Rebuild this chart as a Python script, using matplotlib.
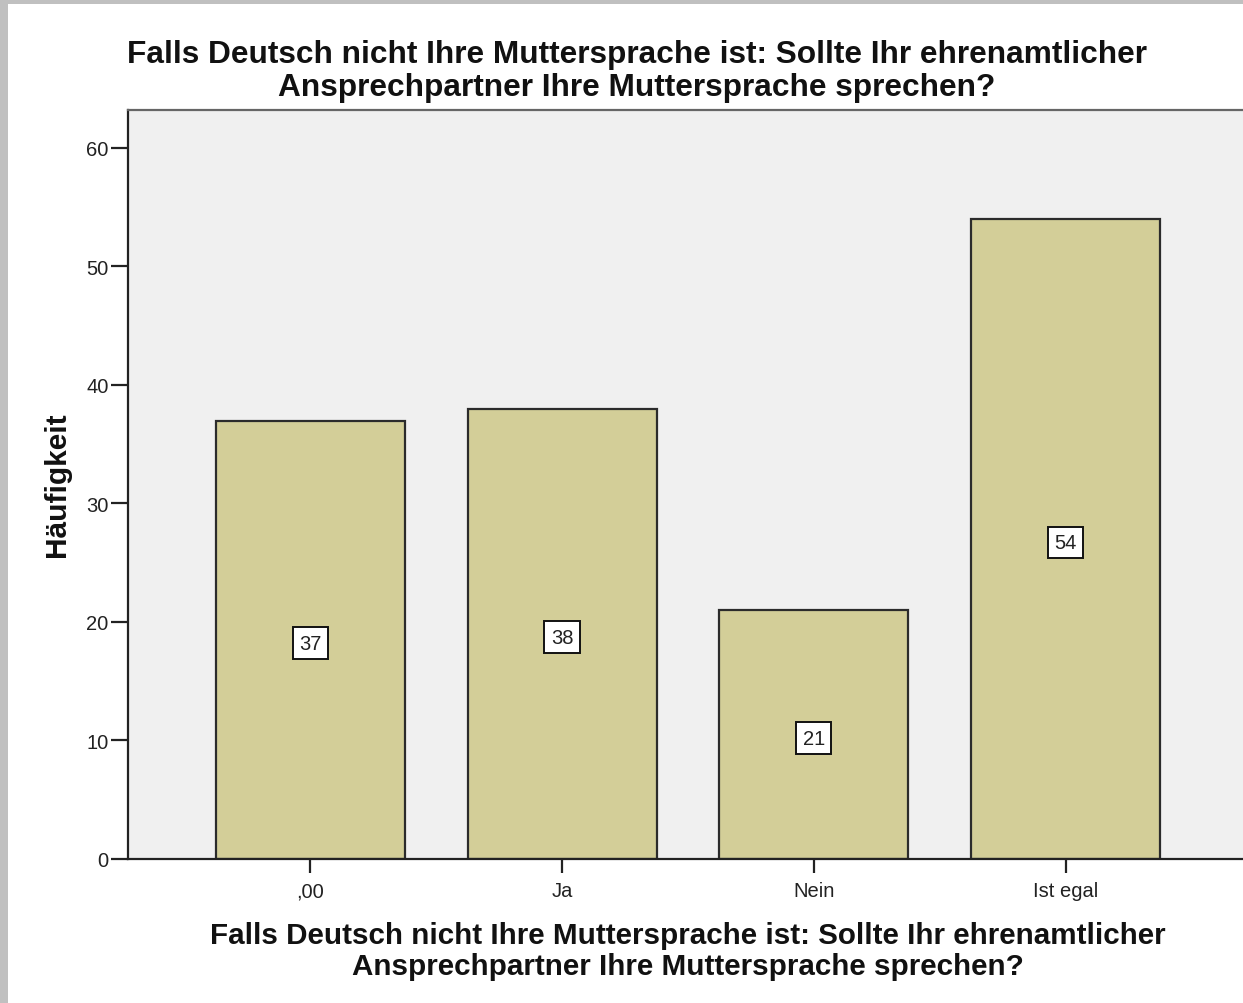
import matplotlib
matplotlib.use("Agg")
import matplotlib.pyplot as plt
from matplotlib.patches import Rectangle

categories = [",00", "Ja", "Nein", "Ist egal"]
counts = [37, 38, 21, 54]
yticks = [0, 10, 20, 30, 40, 50, 60]
title_lines = ["Falls Deutsch nicht Ihre Muttersprache ist: Sollte Ihr ehrenamtlicher",
               "Ansprechpartner Ihre Muttersprache sprechen?"]
xlabel_lines = title_lines
ylabel = "Häufigkeit"

plt.rcParams['font.family'] = ['Liberation Sans', 'DejaVu Sans']

W, H = 1243, 1004
fig = plt.figure(figsize=(W / 100, H / 100), dpi=100)
fig.patch.set_facecolor("white")

# gray frame
fig.patches.append(Rectangle((0, 1 - 5 / H), 1, 5 / H, transform=fig.transFigure,
                             facecolor="#c0c0c0", edgecolor="none", zorder=0))
fig.patches.append(Rectangle((0, 0), 8 / W, 1, transform=fig.transFigure,
                             facecolor="#c0c0c0", edgecolor="none", zorder=0))

left, right = 128 / W, 1.0
bottom, top = (H - 860) / H, (H - 111) / H
ax = fig.add_axes([left, bottom, right - left, top - bottom])
ax.set_facecolor("#f0f0f0")

x = list(range(len(categories)))
ax.bar(x, counts, width=0.75, color="#d3ce98", edgecolor="#2b2b2b", linewidth=1.6, zorder=2)

for xi, v in zip(x, counts):
    ax.annotate(str(v), xy=(xi, v / 2), xytext=(0, -2.5), textcoords="offset points",
                ha="center", va="center", fontsize=14.5, color="#222222", zorder=3,
                bbox=dict(boxstyle="square,pad=0.32", facecolor="white",
                          edgecolor="#111111", linewidth=1.4))

ax.set_xlim(-0.725, 3.705)
ax.set_ylim(0, 63.2)
ax.set_xticks(x)
ax.set_xticklabels(categories, fontsize=14.5, color="#222222")
ax.set_yticks(yticks)
ax.set_yticklabels([str(t) for t in yticks], fontsize=14.5, color="#222222")
ax.tick_params(axis="y", length=12, width=1.6, direction="out", pad=2, color="#222222")
ax.tick_params(axis="x", length=10, width=1.6, direction="out", pad=6, color="#222222")

ax.spines["right"].set_visible(False)
ax.spines["top"].set_color("#666666")
ax.spines["top"].set_linewidth(1.6)
for s in ("left", "bottom"):
    ax.spines[s].set_color("#222222")
    ax.spines[s].set_linewidth(1.6)

# title
fig.text(637 / W, 1 - 55 / H, title_lines[0], ha="center", va="center",
         fontsize=22.8, fontweight="bold", color="#111111")
fig.text(637 / W, 1 - 88 / H, title_lines[1], ha="center", va="center",
         fontsize=22.8, fontweight="bold", color="#111111")
# x label
fig.text(687.5 / W, 1 - 936 / H, xlabel_lines[0], ha="center", va="center",
         fontsize=21.3, fontweight="bold", color="#111111")
fig.text(687.5 / W, 1 - 967 / H, xlabel_lines[1], ha="center", va="center",
         fontsize=21.3, fontweight="bold", color="#111111")
# y label
fig.text(57 / W, 1 - 485 / H, ylabel, ha="center", va="center", rotation=90,
         fontsize=21.5, fontweight="bold", color="#111111")

fig.savefig("out.png", dpi=100)
